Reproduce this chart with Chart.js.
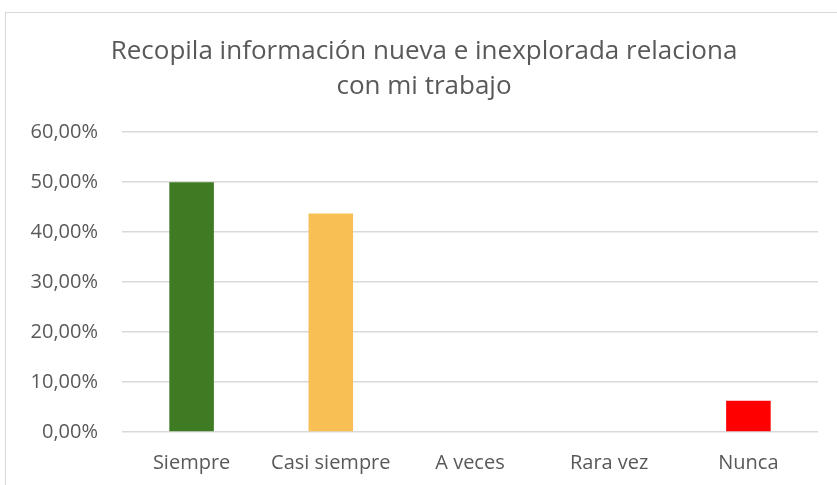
<!DOCTYPE html>
<html>
<head>
<meta charset="utf-8">
<script src="https://cdn.jsdelivr.net/npm/chart.js@4/dist/chart.umd.min.js"></script>
<style>
  html, body { margin: 0; padding: 0; background: #fff; }
  #frame { position: absolute; left: 5px; top: 12px; width: 850px; height: 500px;
           border: 1px solid #d9d9d9; box-sizing: border-box; }
  #wrap { position: absolute; left: 0; top: 0; width: 837px; height: 485px; }
</style>
</head>
<body>
<div id="frame"></div>
<div id="wrap"><canvas id="barChart"></canvas></div>
<script>
const categories = ["Siempre", "Casi siempre", "A veces", "Rara vez", "Nunca"];
const values = [50, 43.75, 0, 0, 6.25];
const barColors = ["#3e7b22", "#f8bf55", "#f8bf55", "#f8bf55", "#ff0000"];
const titleLines = ["Recopila información nueva e inexplorada relaciona", "con mi trabajo"];

const textColor = "#595959";
const fontName = "'Open Sans', sans-serif";

const data = {
  labels: categories,
  datasets: [
    {
      data: values,
      backgroundColor: barColors,
      borderWidth: 0,
      barPercentage: 0.32,
      categoryPercentage: 1,
    },
  ],
};

const config = {
  type: "bar",
  data: data,
  options: {
    responsive: true,
    maintainAspectRatio: false,
    animation: false,
    layout: { padding: { left: 30, right: 19, top: 0, bottom: 0 } },
    plugins: {
      legend: { display: false },
      tooltip: { enabled: false },
      title: {
        display: true,
        text: titleLines,
        color: textColor,
        font: { family: fontName, size: 26, weight: "normal", lineHeight: 1.35 },
        padding: { top: 34, bottom: 28 },
      },
    },
    scales: {
      x: {
        grid: { display: false },
        border: { display: false },
        ticks: { color: textColor, font: { family: fontName, size: 20 }, padding: 11 },
        afterFit: function (scale) { scale.height = 53; },
      },
      y: {
        min: 0,
        max: 60,
        ticks: {
          stepSize: 10,
          color: textColor,
          font: { family: fontName, size: 20 },
          padding: 24,
          callback: function (v) { return v.toFixed(2).replace(".", ",") + "%"; },
        },
        grid: { color: "#d9d9d9", lineWidth: 1.5, drawTicks: false },
        border: { display: false },
        afterFit: function (scale) { scale.width = 92; },
      },
    },
  },
};

const barChart = new Chart(document.getElementById("barChart"), config);
</script>
</body>
</html>
